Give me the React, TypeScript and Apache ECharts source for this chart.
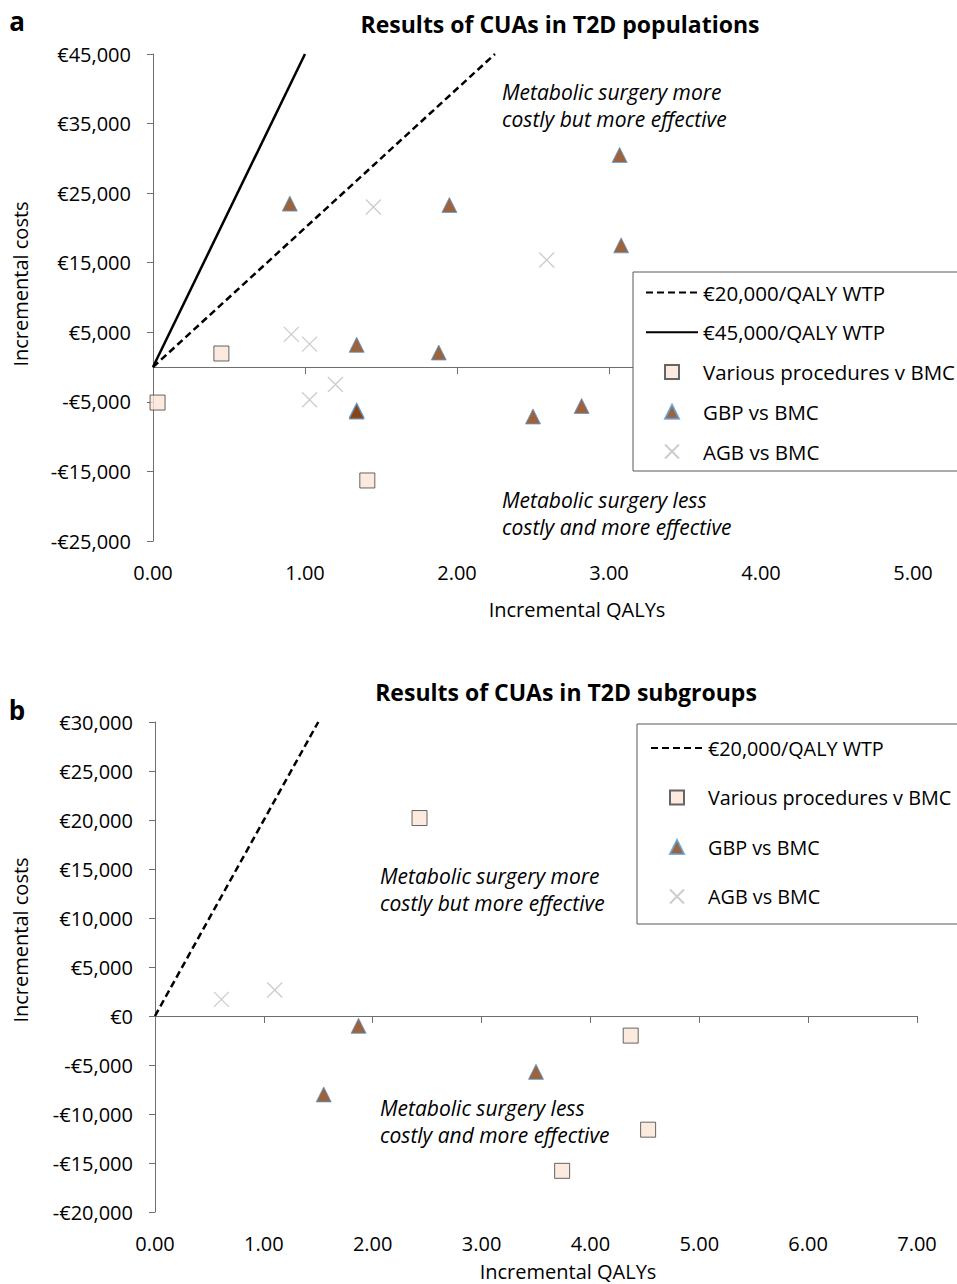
import React, { useEffect, useRef } from 'react';
import * as echarts from 'echarts';

// ---- Data: chart a (T2D populations) ----
const xTicksA = [0, 1, 2, 3, 4, 5];
const yTicksA = [-25000, -15000, -5000, 5000, 15000, 25000, 35000, 45000];
const variousA = [[0.45, 1950], [0.03, -5100], [1.41, -16300]];
const gbpA = [
  [0.9, 23500], [1.95, 23300], [3.07, 30500], [3.08, 17500], [1.34, 3200],
  [1.88, 2100], [1.34, -6200], [1.34, -6400], [2.5, -7100], [2.82, -5600],
];
const agbA = [[1.45, 23000], [2.59, 15400], [0.91, 4700], [1.03, 3300], [1.2, -2500], [1.03, -4700]];
const wtp20A = [[0, 0], [2.25, 45000]];
const wtp45A = [[0, 0], [1.0, 45000]];

// ---- Data: chart b (T2D subgroups) ----
const xTicksB = [0, 1, 2, 3, 4, 5, 6, 7];
const yTicksB = [-20000, -15000, -10000, -5000, 0, 5000, 10000, 15000, 20000, 25000, 30000];
const variousB = [[2.43, 20200], [4.37, -2000], [3.74, -15800], [4.53, -11600]];
const gbpB = [[1.87, -1000], [1.55, -8000], [3.5, -5700]];
const agbB = [[0.61, 1700], [1.1, 2650]];
const wtp20B = [[0, 0], [1.5, 30000]];

const N20 = '€20,000/QALY WTP';
const N45 = '€45,000/QALY WTP';
const NVAR = 'Various procedures v BMC';
const NGBP = 'GBP vs BMC';
const NAGB = 'AGB vs BMC';

const FONT = 'Open Sans';
const AXIS_COLOR = '#6e6e6e';
const CROSS = 'path://M0,0L10,10M10,0L0,10';
const TRI = 'path://M5,0L10,10L0,10Z';
const SQUARE = 'path://M0,0L10,0L10,10L0,10Z';

const fmtEuro = (v: number) => {
  const s = Math.abs(v).toLocaleString('en-US');
  return v < 0 ? '-€' + s : '€' + s;
};
const fmtX = (v: number) => v.toFixed(2);

function buildOption() {
  const labelStyle = { fontSize: 20, fontFamily: FONT, color: '#000' };
  const lineStyleAxis = { color: AXIS_COLOR, width: 1 };

  const xAxes: any[] = [];
  const yAxes: any[] = [];
  const cfgs = [
    { grid: 0, xmax: 5, xt: xTicksA, ymin: -25000, ymax: 45000, yt: yTicksA },
    { grid: 1, xmax: 7, xt: xTicksB, ymin: -20000, ymax: 30000, yt: yTicksB },
  ];
  cfgs.forEach((c) => {
    xAxes.push({
      gridIndex: c.grid, type: 'value', min: 0, max: c.xmax, interval: 1, position: 'bottom',
      axisLine: { show: false, onZero: false }, axisTick: { show: false }, splitLine: { show: false },
      axisLabel: { ...labelStyle, formatter: fmtX, margin: 21, customValues: c.xt },
    });
    xAxes.push({
      gridIndex: c.grid, type: 'value', min: 0, max: c.xmax, interval: 1, position: 'top',
      axisLine: { show: true, onZero: true, lineStyle: lineStyleAxis },
      axisTick: { show: true, inside: true, length: 7, lineStyle: lineStyleAxis, customValues: c.xt.slice(1) },
      axisLabel: { show: false }, splitLine: { show: false },
    });
    yAxes.push({
      gridIndex: c.grid, type: 'value', min: c.ymin, max: c.ymax,
      axisLine: { show: true, onZero: true, lineStyle: lineStyleAxis },
      axisTick: { show: true, length: 6, lineStyle: lineStyleAxis, customValues: c.yt },
      axisLabel: { ...labelStyle, formatter: fmtEuro, margin: 22, customValues: c.yt },
      splitLine: { show: false },
    });
  });

  const wtpLine = (name: string, data: number[][], xi: number, yi: number, dashed: boolean) => ({
    name, type: 'line', data, xAxisIndex: xi, yAxisIndex: yi, symbol: 'none', z: 1,
    lineStyle: { color: '#000', width: 2.5, type: dashed ? [7, 4] : 'solid' },
    itemStyle: { color: 'rgba(0,0,0,0)', borderColor: 'rgba(0,0,0,0)', borderWidth: 0 },
  });
  const various = (data: number[][], xi: number, yi: number) => ({
    name: NVAR, type: 'scatter', data, xAxisIndex: xi, yAxisIndex: yi, symbol: SQUARE, symbolSize: 15,
    itemStyle: { color: '#FBE5D6', borderColor: '#404040', borderWidth: 1 },
  });
  const gbp = (data: number[][], xi: number, yi: number) => ({
    name: NGBP, type: 'scatter', data, xAxisIndex: xi, yAxisIndex: yi, symbol: TRI, symbolSize: 15,
    itemStyle: { color: '#843C0C', borderColor: '#5B9BD5', borderWidth: 1 },
  });
  const agb = (data: number[][], xi: number, yi: number) => ({
    name: NAGB, type: 'scatter', data, xAxisIndex: xi, yAxisIndex: yi, symbol: CROSS, symbolSize: 15,
    itemStyle: { color: '#BFBFBF', borderColor: '#BFBFBF', borderWidth: 1.3 },
  });

  const series = [
    wtpLine(N20, wtp20A, 0, 0, true),
    wtpLine(N45, wtp45A, 0, 0, false),
    various(variousA, 0, 0),
    gbp(gbpA, 0, 0),
    agb(agbA, 0, 0),
    wtpLine(N20, wtp20B, 2, 1, true),
    various(variousB, 2, 1),
    gbp(gbpB, 2, 1),
    agb(agbB, 2, 1),
  ];

  const legend = [
    {
      left: 640, top: 277, orient: 'vertical', itemWidth: 52, itemHeight: 14, itemGap: 18.75,
      symbolKeepAspect: true,
      data: [N20, N45, NVAR, NGBP, NAGB],
      textStyle: { fontSize: 20.5, fontFamily: FONT, color: '#000' }, selectedMode: false, z: 6,
    },
    {
      left: 645, top: 733, orient: 'vertical', itemWidth: 52, itemHeight: 14, itemGap: 29.5,
      symbolKeepAspect: true,
      data: [N20, NVAR, NGBP, NAGB],
      textStyle: { fontSize: 19.8, fontFamily: FONT, color: '#000' }, selectedMode: false, z: 6,
    },
  ];

  const txt = (text: string, x: number, y: number, o: any = {}) => ({
    type: 'text', x, y, z: 7, rotation: o.rotation || 0,
    style: {
      text, fontSize: o.fontSize || 20, fontFamily: FONT, fontWeight: o.fontWeight || 'normal',
      fontStyle: o.fontStyle || 'normal', fill: '#000', align: o.align || 'center',
      verticalAlign: 'middle', lineHeight: o.lineHeight,
    },
  });

  const annot = { fontSize: 21, fontStyle: 'italic', align: 'left', lineHeight: 27 };
  const graphic = [
    { type: 'rect', z: 5, shape: { x: 633, y: 272, width: 400, height: 199 }, style: { fill: '#fff', stroke: '#595959', lineWidth: 1 } },
    { type: 'rect', z: 5, shape: { x: 637, y: 724, width: 400, height: 200 }, style: { fill: '#fff', stroke: '#595959', lineWidth: 1 } },
    txt('a', 17, 21, { fontSize: 26, fontWeight: 'bold' }),
    txt('b', 17, 710, { fontSize: 26, fontWeight: 'bold' }),
    txt('Results of CUAs in T2D populations', 560, 24, { fontSize: 23, fontWeight: 'bold' }),
    txt('Results of CUAs in T2D subgroups', 566, 692, { fontSize: 23, fontWeight: 'bold' }),
    txt('Incremental QALYs', 577, 609, { fontSize: 20 }),
    txt('Incremental QALYs', 568, 1271, { fontSize: 20 }),
    txt('Incremental costs', 20, 284, { fontSize: 20, rotation: Math.PI / 2 }),
    txt('Incremental costs', 20, 940, { fontSize: 20, rotation: Math.PI / 2 }),
    txt('Metabolic surgery more\ncostly but more effective', 502, 105.5, annot),
    txt('Metabolic surgery less\ncostly and more effective', 502, 513.5, annot),
    txt('Metabolic surgery more\ncostly but more effective', 380, 889.5, annot),
    txt('Metabolic surgery less\ncostly and more effective', 380, 1121.5, annot),
  ];

  return {
    animation: false,
    backgroundColor: '#fff',
    textStyle: { fontFamily: FONT },
    grid: [
      { left: 153, top: 54, width: 760, height: 487 },
      { left: 155, top: 722, width: 762, height: 490 },
    ],
    xAxis: xAxes,
    yAxis: yAxes,
    legend,
    series,
    graphic,
  };
}

export default function App() {
  const ref = useRef<HTMLDivElement>(null);
  useEffect(() => {
    if (!ref.current) return;
    const chart = echarts.init(ref.current, undefined, { renderer: 'svg' });
    chart.setOption(buildOption() as any);
    return () => chart.dispose();
  }, []);
  return (
    <div
      ref={ref}
      style={{ position: 'absolute', left: 0, top: 0, width: 957, height: 1284, background: '#fff' }}
    />
  );
}
